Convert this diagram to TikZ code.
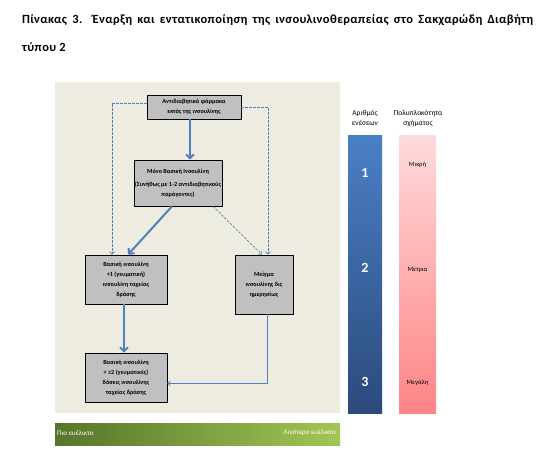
\documentclass[tikz,border=0pt]{standalone}
\usepackage{fontspec}
\setmainfont{Carlito}
\usetikzlibrary{arrows.meta,shadows}
\definecolor{beige}{HTML}{EEECE1}
\definecolor{boxgray}{HTML}{C0C0C0}
\definecolor{arrowblue}{HTML}{4F81BD}
\definecolor{bluetop}{HTML}{4A7FC6}
\definecolor{bluebot}{HTML}{2B4A7B}
\definecolor{pinktop}{HTML}{FFDADB}
\definecolor{pinkbot}{HTML}{FF8485}
\definecolor{greenL}{HTML}{56752A}
\definecolor{greenR}{HTML}{A2C655}
\tikzset{
  flowbox/.style={draw=black, line width=0.6pt, fill=boxgray, align=center,
    font=\fontsize{6.2}{10}\selectfont\bfseries, inner sep=1pt,
    drop shadow={shadow xshift=1pt, shadow yshift=-1pt, fill=black!70, opacity=1}},
  thickarrow/.style={draw=arrowblue, line width=2pt, -{Straight Barb[length=4pt,width=8pt]}},
  dasharrow/.style={draw=arrowblue, line width=0.7pt, dash pattern=on 2.5pt off 1.5pt, -{Straight Barb[length=2.5pt,width=5pt]}},
  thinarrow/.style={draw=arrowblue, line width=0.8pt, -{Straight Barb[length=2.5pt,width=5pt]}},
  headtxt/.style={font=\fontsize{7.5}{10}\selectfont, align=center},
  smalltxt/.style={font=\fontsize{6.5}{7}\selectfont},
  bartxt/.style={font=\fontsize{7}{8}\selectfont, text=white, inner sep=0},
  numtxt/.style={font=\fontsize{14}{15}\selectfont\bfseries, text=white},
  titletxt/.style={anchor=west, inner sep=0, font=\fontsize{12.5}{14}\selectfont\bfseries\addfontfeature{LetterSpace=3}},
}
\begin{document}
\begin{tikzpicture}[x=1pt,y=-1pt]
\useasboundingbox (0,0) rectangle (547,470);
\fill[white] (0,0) rectangle (547,470);
% title
\node[titletxt] (title1) at (22,20) {\makebox[511pt][s]{Πίνακας 3. Έναρξη και εντατικοποίηση της ινσουλινοθεραπείας στο Σακχαρώδη Διαβήτη}};
\node[titletxt] (title2) at (22,47) {τύπου 2};
% background panel
\fill[beige] (55,82) rectangle (340,413);
% green bar
\shade[left color=greenL, right color=greenR] (55,424) rectangle (340,446);
\node[anchor=west, bartxt] (flex1) at (57,433) {Πιο ευέλικτο};
\node[anchor=east, bartxt] (flex2) at (336,433) {Λιγότερο ευέλικτο};
% boxes
\node[flowbox, minimum width=94pt, minimum height=24pt] (b1) at (194,107) {Αντιδιαβητικά φάρμακα\\εκτός της ινσουλίνης};
\node[flowbox, minimum width=78pt, minimum height=46pt] (b2) at (178,183) {Μόνο Βασική Ινσουλίνη\\[3pt](Συνήθως με 1-2 αντιδιαβητικούς\\παράγοντες)};
\node[flowbox, minimum width=82pt, minimum height=49pt] (b3) at (126,279.5) {Βασική ινσουλίνη\\+1 (γευματική)\\ινσουλίνη ταχείας\\δράσης};
\node[flowbox, minimum width=58pt, minimum height=59pt] (b4) at (264,284.5) {Μείγμα\\ινσουλίνης δις\\ημερησίως};
\node[flowbox, minimum width=82pt, minimum height=49pt] (b5) at (126,377.5) {Βασική ινσουλίνη\\+ ≥2 (γευματικές)\\δόσεις ινσουλίνης\\ταχείας δράσης};
% connectors
\draw[thickarrow] ([xshift=-4pt]b1.south) -- ([xshift=12pt]b2.north);
\draw[thickarrow] ([xshift=-6pt]b2.south) -- ([xshift=2pt]b3.north);
\draw[thickarrow] ([xshift=-2pt]b3.south) -- ([xshift=-2pt]b5.north);
\draw[dasharrow] ([yshift=4pt]b1.west) -| ([xshift=-14pt]b3.north);
\draw[dasharrow] (b1.east) -| ([xshift=4pt]b4.north);
\draw[dasharrow] ([xshift=35pt]b2.south) -- ([xshift=-2pt]b4.north);
\draw[thinarrow] ([xshift=3pt]b4.south) |- ([yshift=-6pt]b5.east);
% right columns
\node[headtxt] (h1) at (365,118) {Αριθμός\\ενέσεων};
\node[headtxt] (h2) at (418,118) {Πολυπλοκότητα\\σχήματος};
\shade[top color=bluetop, bottom color=bluebot] (348,136) rectangle (382,414);
\shade[top color=pinktop, bottom color=pinkbot] (399,136) rectangle (436,414);
\node[numtxt] (n1) at (365,173) {1};
\node[numtxt] (n2) at (365,268) {2};
\node[numtxt] (n3) at (365,382) {3};
\node[smalltxt] (c1) at (417.5,165) {Μικρή};
\node[smalltxt] (c2) at (417.5,270) {Μέτρια};
\node[smalltxt] (c3) at (417.5,383) {Μεγάλη};
\end{tikzpicture}
\end{document}
